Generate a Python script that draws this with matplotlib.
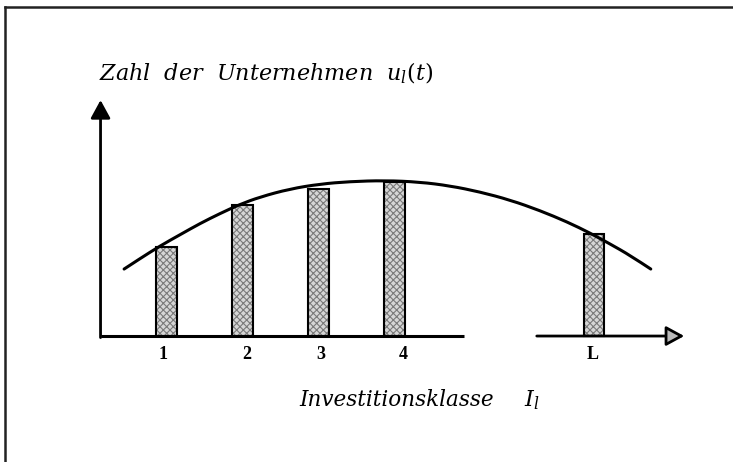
"""Schematic: number of firms per investment class with an envelope curve."""
import matplotlib
matplotlib.use("Agg")
import matplotlib.pyplot as plt
from matplotlib.lines import Line2D
from matplotlib.path import Path
from matplotlib.patches import PathPatch

plt.rcParams["mathtext.fontset"] = "dejavuserif"
plt.rcParams["hatch.linewidth"] = 0.8

# investment classes and firm counts (arbitrary units)
classes = ["1", "2", "3", "4", "L"]
class_pos = [1.0, 2.0, 3.0, 4.0, 6.62]
firms = [5.8, 8.5, 9.55, 10.0, 6.6]
label_dx = [-0.05, 0.05, 0.03, 0.11, -0.01]   # tick-label nudges seen in the drawing

# envelope curve
curve_x = [0.44, 0.65, 0.91, 1.18, 1.44, 1.70, 1.96, 2.23, 2.62, 3.02, 3.41, 3.87,
           4.33, 4.73, 5.12, 5.52, 5.91, 6.27, 6.57, 6.83, 7.10, 7.37]
curve_y = [4.35, 5.03, 5.84, 6.59, 7.31, 7.95, 8.54, 9.03, 9.55, 9.87, 10.03, 10.10,
           10.0, 9.75, 9.36, 8.83, 8.15, 7.41, 6.69, 5.99, 5.23, 4.35]

fig = plt.figure(figsize=(7.33, 4.62), dpi=100)
ax = fig.add_axes([0, 0, 1, 1])
ax.set_xlim(-1.193, 8.452); ax.set_ylim(-8.18, 21.82); ax.axis("off")

# frame (top and left edges only visible)
fig.add_artist(Line2D([5 / 733, 1], [1 - 6.5 / 462] * 2, color="#222", lw=1.8, transform=fig.transFigure))
fig.add_artist(Line2D([5 / 733] * 2, [0, 1 - 6.5 / 462], color="#222", lw=1.8, transform=fig.transFigure))

# bars: stipple fill + black outline
ax.bar(class_pos, firms, width=0.27, color="#d6d6d6", hatch="xxxxx", edgecolor="#7a7a7a", lw=0, zorder=2)
ax.bar(class_pos, firms, width=0.27, fill=False, edgecolor="black", lw=1.5, zorder=3)

# smooth envelope: quadratic Bezier through midpoints of the read points
pts = list(zip(curve_x, curve_y))
verts, codes = [pts[0]], [Path.MOVETO]
for i in range(1, len(pts) - 1):
    mid = ((pts[i][0] + pts[i + 1][0]) / 2, (pts[i][1] + pts[i + 1][1]) / 2)
    end = pts[-1] if i == len(pts) - 2 else mid
    verts += [pts[i], end]; codes += [Path.CURVE3, Path.CURVE3]
ax.add_patch(PathPatch(Path(verts, codes), fill=False, lw=2.2, ec="black", capstyle="round", zorder=4))

# axes with arrows
ax0 = 0.13
ax.annotate("", xy=(ax0, 15.32), xytext=(ax0, -0.1),
            arrowprops=dict(arrowstyle="-|>,head_length=0.55,head_width=0.3", lw=2, color="black",
                            mutation_scale=20, shrinkA=0, shrinkB=0))
ax.plot([ax0, 4.91], [0, 0], color="black", lw=2.2, solid_capstyle="butt", zorder=5)
ax.annotate("", xy=(7.81, 0), xytext=(5.87, 0),
            arrowprops=dict(arrowstyle="-|>,head_length=0.55,head_width=0.3", lw=2, ec="black", fc="#bbbbbb",
                            mutation_scale=20, shrinkA=0, shrinkB=0), zorder=5)

for p, c, d in zip(class_pos, classes, label_dx):
    ax.text(p + d, -1.23, c, ha="center", va="center", fontsize=13, fontweight="bold", family="Liberation Serif")

ax.text(0.11, 17.08, r"Zahl  der  Unternehmen  $u_l(t)$", ha="left", va="center", fontsize=16,
        family="DejaVu Serif", style="italic")
ax.text(2.74, -4.16, "Investitionsklasse", ha="left", va="center", fontsize=15.5,
        family="DejaVu Serif", style="italic")
ax.text(5.70, -4.16, r"$I_l$", ha="left", va="center", fontsize=16)

fig.savefig("out.png", dpi=100)
